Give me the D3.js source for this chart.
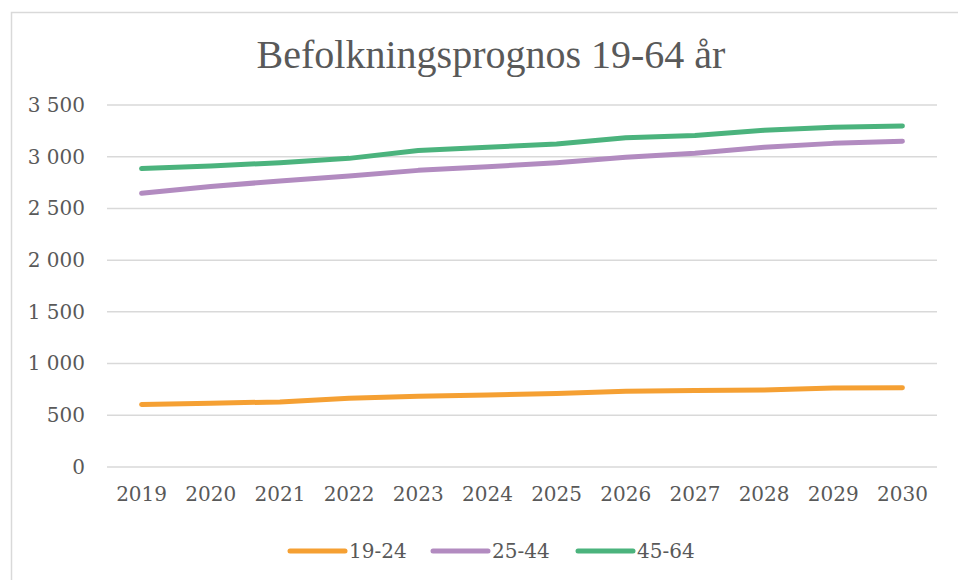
<!DOCTYPE html>
<html>
<head>
<meta charset="utf-8">
<script src="https://cdn.jsdelivr.net/npm/d3@7"></script>
<style>
  body { margin: 0; background: #fff; }
  text { font-family: "DejaVu Serif", "Liberation Serif", serif; fill: #595959; }
</style>
</head>
<body>
<script>
// chart values
const years = ["2019","2020","2021","2022","2023","2024","2025","2026","2027","2028","2029","2030"]
const age19_24 = [604, 617, 629, 665, 684, 697, 710, 733, 739, 745, 765, 766]
const age25_44 = [2646, 2713, 2765, 2813, 2868, 2903, 2942, 2994, 3033, 3091, 3129, 3149]
const age45_64 = [2885, 2910, 2942, 2984, 3060, 3091, 3123, 3184, 3204, 3255, 3284, 3297]
const seriesNames = ["19-24", "25-44", "45-64"]
const seriesColors = ["#F5A033", "#B28BC0", "#4BB37D"]
const yTicks = [0, 500, 1000, 1500, 2000, 2500, 3000, 3500]
const title = "Befolkningsprognos 19-64 år"

const width = 958, height = 580
const plot = {left: 107, right: 937, top: 105, bottom: 467}

const svg = d3.select("body").append("svg")
    .attr("width", width)
    .attr("height", height)

// outer chart frame
svg.append("rect")
    .attr("x", 11.5).attr("y", 12.5)
    .attr("width", 960).attr("height", 600)
    .attr("fill", "none")
    .attr("stroke", "#D9D9D9")
    .attr("stroke-width", 1.5)

const x = d3.scaleBand().domain(years).range([plot.left, plot.right])
const y = d3.scaleLinear().domain([0, 3500]).range([plot.bottom, plot.top])

const fmt = d3.formatLocale({decimal: ",", thousands: " ", grouping: [3], currency: ["", " kr"]}).format(",d")

// gridlines
svg.append("g")
    .selectAll("line")
    .data(yTicks)
    .join("line")
      .attr("x1", plot.left).attr("x2", plot.right)
      .attr("y1", d => y(d)).attr("y2", d => y(d))
      .attr("stroke", "#D9D9D9")
      .attr("stroke-width", 1.5)

// y axis labels
const yAxis = svg.append("g")
    .attr("transform", `translate(${plot.left},0)`)
    .call(d3.axisLeft(y).tickValues(yTicks).tickFormat(fmt).tickSize(0).tickPadding(22))
yAxis.select(".domain").remove()
yAxis.selectAll("text")
    .attr("font-size", 20)
    .style("font-family", '"DejaVu Serif", serif')
    .attr("fill", "#595959")

// x axis labels
const xAxis = svg.append("g")
    .attr("transform", `translate(0,${plot.bottom})`)
    .call(d3.axisBottom(x).tickSize(0).tickPadding(20))
xAxis.select(".domain").remove()
xAxis.selectAll("text")
    .attr("font-size", 20)
    .style("font-family", '"DejaVu Serif", serif')
    .attr("fill", "#595959")

// lines
const allSeries = [age19_24, age25_44, age45_64]
const line = d3.line()
    .x((d, i) => x(years[i]) + x.bandwidth() / 2)
    .y(d => y(d))

svg.append("g")
    .selectAll("path")
    .data(allSeries)
    .join("path")
      .attr("d", d => line(d))
      .attr("fill", "none")
      .attr("stroke", (d, i) => seriesColors[i])
      .attr("stroke-width", 5)
      .attr("stroke-linecap", "round")
      .attr("stroke-linejoin", "round")

// title
svg.append("text")
    .text(title)
    .attr("x", 491)
    .attr("y", 68)
    .attr("text-anchor", "middle")
    .attr("font-size", 40)
    .style("font-family", '"Liberation Serif", serif')

// legend
const legendX = [290, 433, 578]
const legend = svg.append("g")
    .selectAll("g")
    .data(seriesNames)
    .join("g")
      .attr("transform", (d, i) => `translate(${legendX[i]},551)`)
legend.append("line")
    .attr("x1", 0).attr("x2", 55)
    .attr("stroke", (d, i) => seriesColors[i])
    .attr("stroke-width", 5)
    .attr("stroke-linecap", "round")
legend.append("text")
    .text(d => d)
    .attr("x", 59)
    .attr("y", 7)
    .attr("font-size", 20)
</script>
</body>
</html>
